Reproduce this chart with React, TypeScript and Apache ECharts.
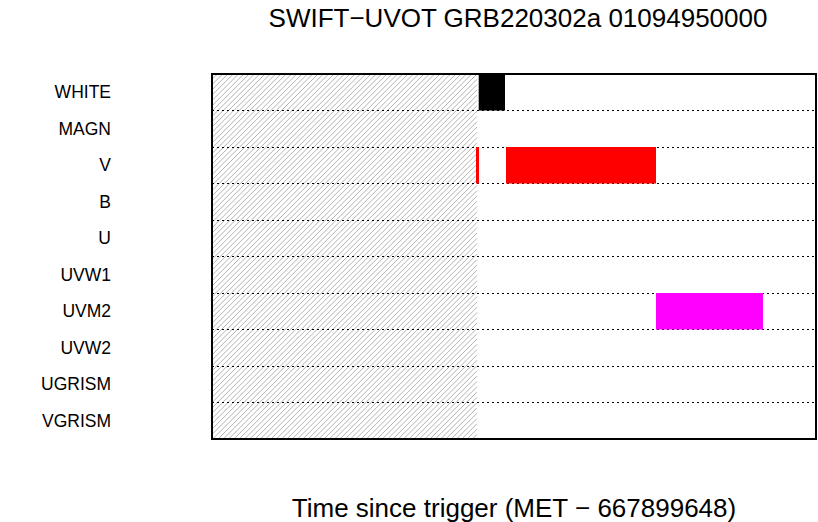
import React, { useEffect, useRef } from "react";
import * as echarts from "echarts";

const filters = ["WHITE", "MAGN", "V", "B", "U", "UVW1", "UVM2", "UVW2", "UGRISM", "VGRISM"];
const filterColors: Record<string, string> = { WHITE: "#000000", V: "#ff0000", UVM2: "#ff00ff" };

// exposures (seconds since trigger)
const exposureFilter = ["V", "WHITE", "V", "UVM2"];
const exposureStart = [-10, 17, 290, 1790];
const exposureEnd = [20, 280, 1790, 2860];

// hatched (no data) interval
const hatchStart = -2650;
const hatchEnd = 0;

const axisMin = -2650;
const axisMax = 3390;

const FONT = "'Liberation Sans', Arial, Helvetica, sans-serif";

export default function App() {
  const ref = useRef<HTMLDivElement>(null);
  useEffect(() => {
    if (!ref.current) return;
    const chart = echarts.init(ref.current, undefined, { renderer: "svg" });
    const barData = exposureFilter.map((f, i) => [filters.indexOf(f), exposureStart[i], exposureEnd[i], f]);
    chart.setOption({
      animation: false,
      title: {
        text: "SWIFT\u2212UVOT GRB220302a 01094950000",
        left: 513,
        top: 0,
        textAlign: "center",
        textStyle: { fontFamily: FONT, fontSize: 26, fontWeight: "normal", color: "#000" },
      },
      grid: {
        left: 212,
        top: 74,
        right: 2,
        bottom: 83,
        show: true,
        borderColor: "#000",
        borderWidth: 2,
        backgroundColor: "transparent",
        outerBoundsMode: "none",
        containLabel: false,
      },
      xAxis: {
        type: "value",
        min: axisMin,
        max: axisMax,
        axisLine: { show: false },
        axisTick: { show: false },
        axisLabel: { show: false },
        splitLine: { show: false },
        name: "Time since trigger (MET \u2212 667899648)",
        nameLocation: "middle",
        nameGap: 56,
        nameTextStyle: { fontFamily: FONT, fontSize: 26, color: "#000" },
      },
      yAxis: {
        type: "category",
        data: filters,
        inverse: true,
        axisLine: { show: false },
        axisTick: { show: false },
        axisLabel: { fontFamily: FONT, fontSize: 17.5, color: "#000", margin: 101, interval: 0 },
        splitLine: { show: true, interval: 0, lineStyle: { color: "#000", width: 1, type: [2, 3] } },
      },
      series: [
        {
          type: "custom",
          z: -1,
          silent: true,
          data: [[hatchStart, hatchEnd]],
          encode: { x: [0, 1] },
          renderItem: (params: any, api: any) => {
            const cs = params.coordSys;
            const x0 = api.coord([api.value(0), 0])[0];
            const x1 = api.coord([api.value(1), 0])[0];
            const y0 = cs.y;
            const y1 = cs.y + cs.height;
            const step = 5.3;
            const children: any[] = [];
            for (let c = x0 + y0 + step; c < x1 + y1; c += step) {
              const ax = Math.max(x0, c - y1);
              const bx = Math.min(x1, c - y0);
              if (bx <= ax) continue;
              children.push({
                type: "line",
                shape: { x1: ax, y1: c - ax, x2: bx, y2: c - bx },
                style: { stroke: "#a0a0a0", lineWidth: 0.8 },
              });
            }
            return { type: "group", children };
          },
        },
        {
          type: "custom",
          z: 3,
          data: barData,
          encode: { x: [1, 2], y: 0 },
          renderItem: (params: any, api: any) => {
            const idx = api.value(0);
            const a = api.coord([api.value(1), idx]);
            const b = api.coord([api.value(2), idx]);
            const h = api.size([0, 1])[1];
            const name = filters[idx];
            return {
              type: "rect",
              shape: { x: a[0], y: a[1] - h / 2, width: b[0] - a[0], height: h },
              style: { fill: filterColors[name] || "#000" },
            };
          },
        },
      ],
    });
    return () => chart.dispose();
  }, []);
  return <div ref={ref} style={{ width: 818, height: 522, position: "absolute", left: 0, top: 0 }} />;
}
